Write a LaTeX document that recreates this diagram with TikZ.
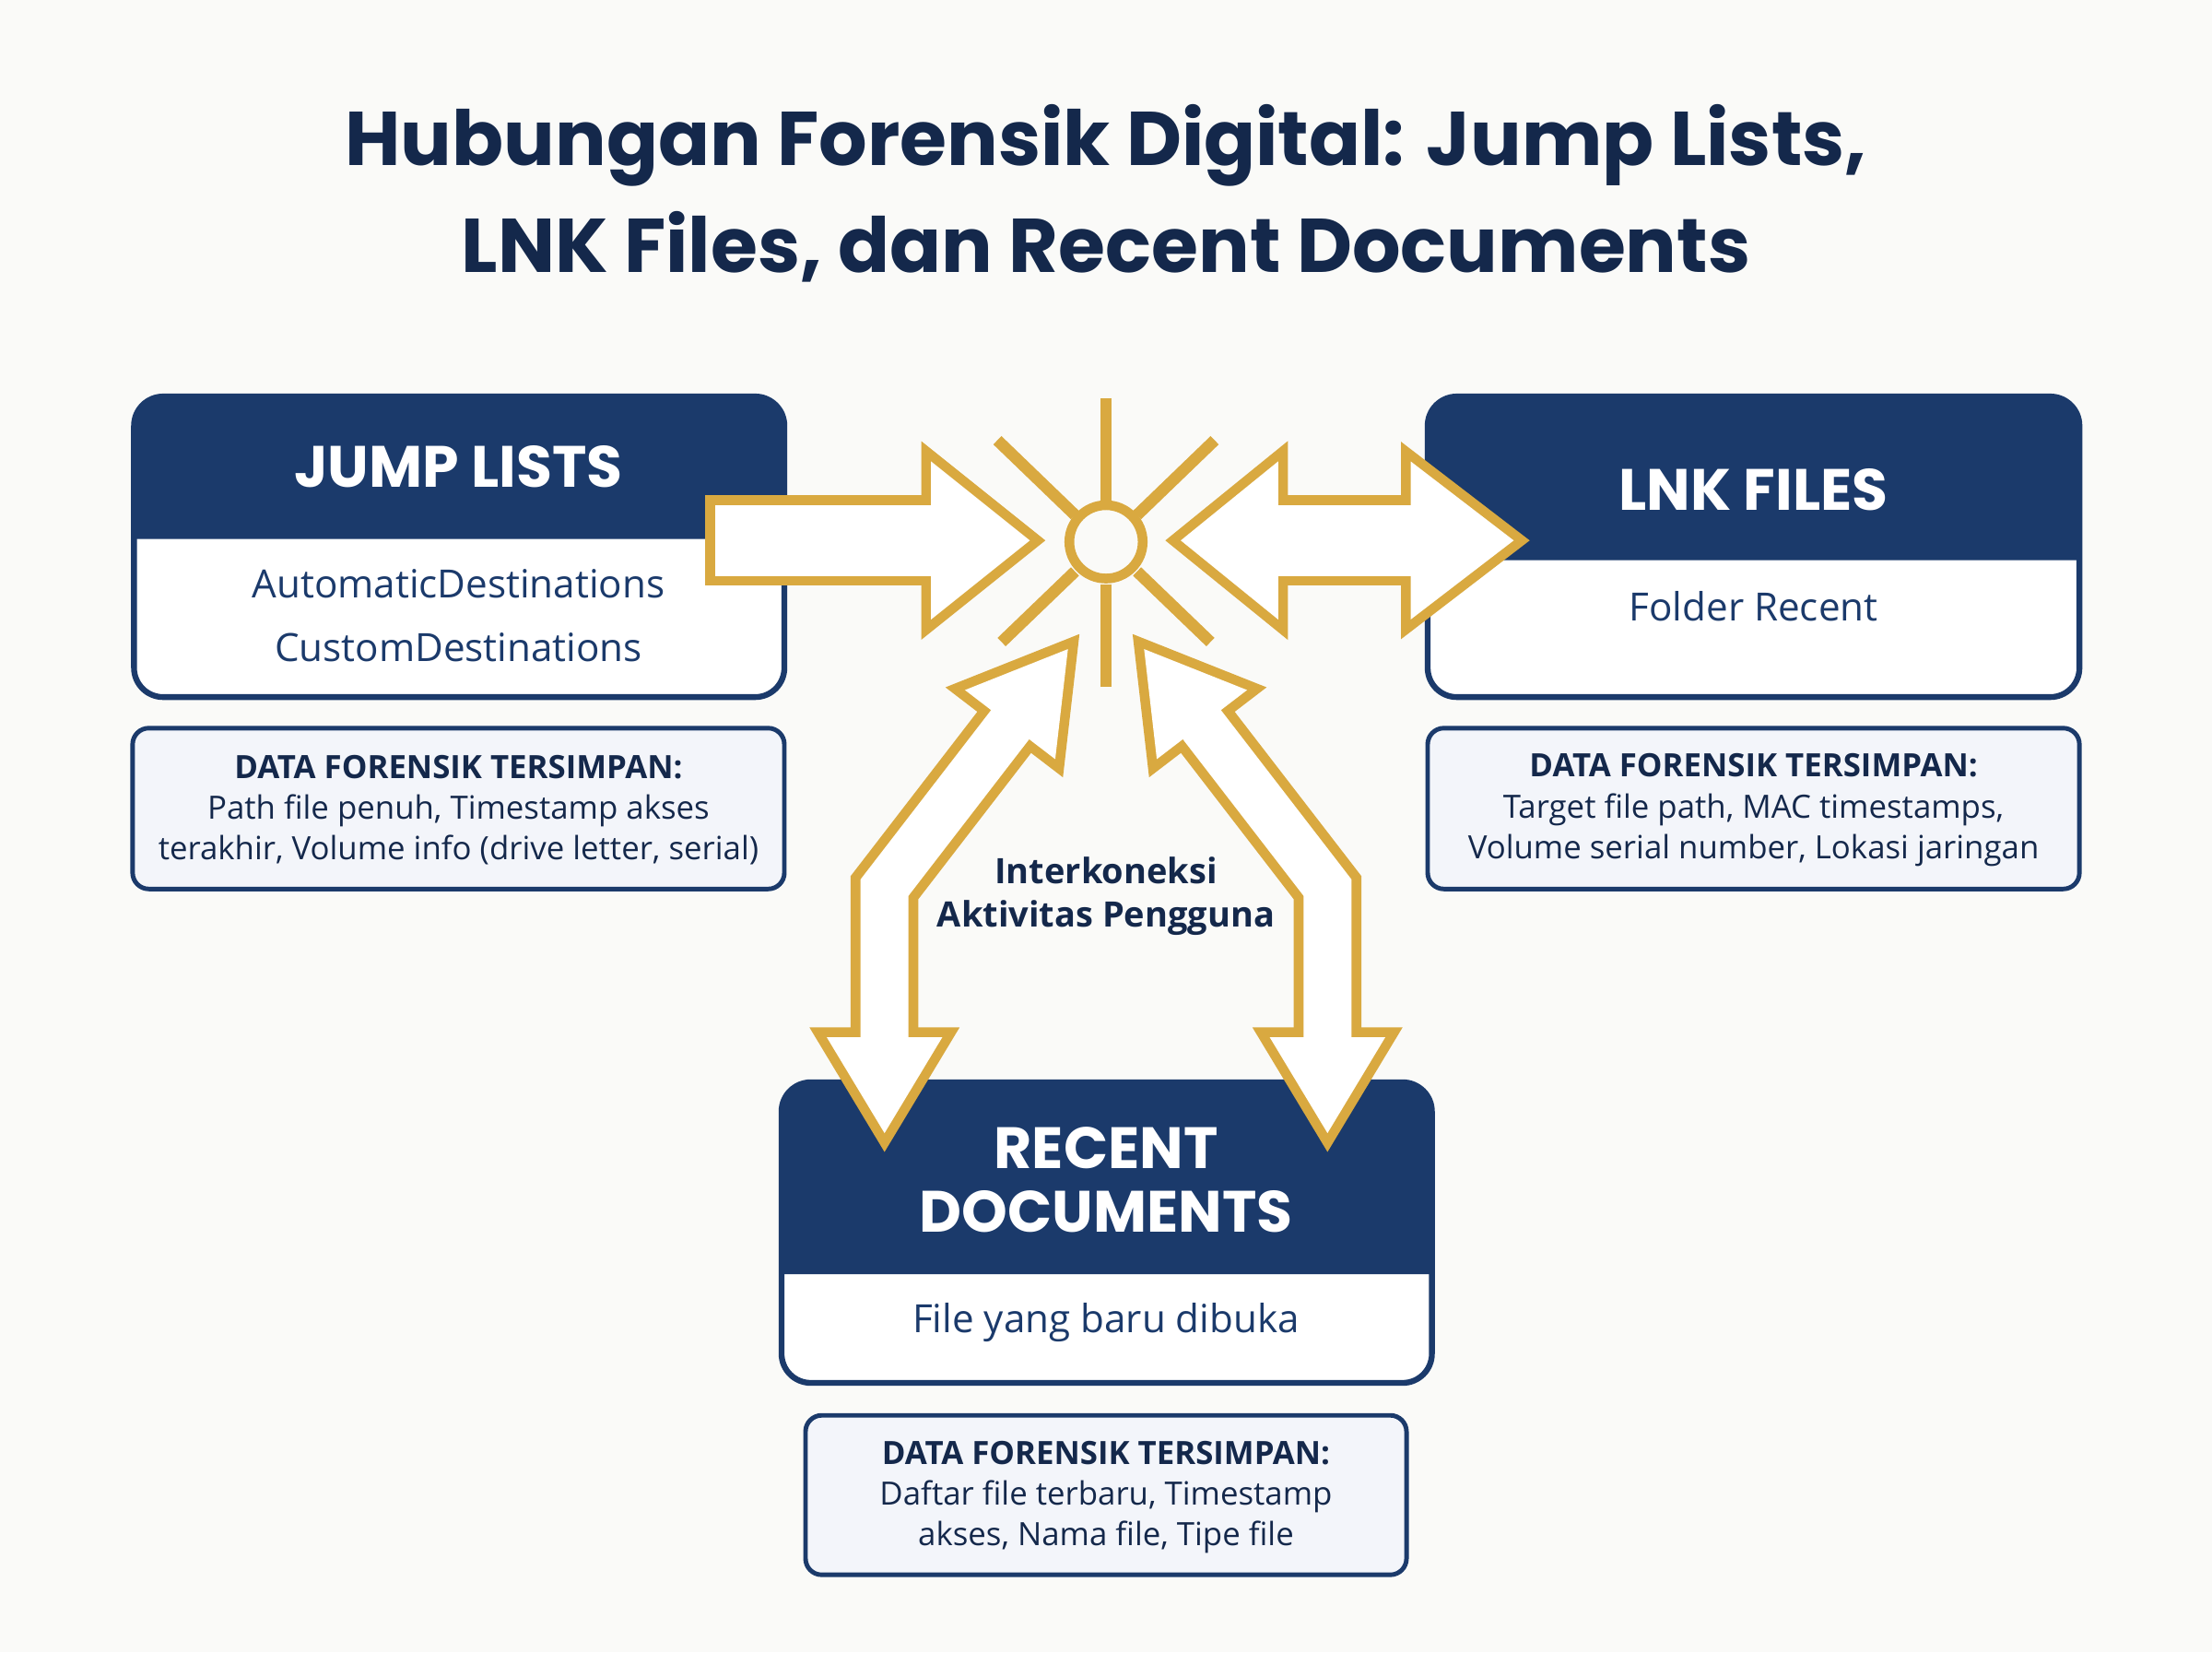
\documentclass[tikz,border=0pt]{standalone}
\usepackage{fontspec}
\setmainfont{Open Sans}
\newfontfamily\titlefont{Poppins}
\definecolor{navy}{HTML}{1B3A6B}
\definecolor{ink}{HTML}{14284B}
\definecolor{gold}{HTML}{D9A940}
\definecolor{paper}{HTML}{FAFAF8}
\definecolor{datafill}{HTML}{F3F5FA}
\tikzset{
  boxline/.style={draw=navy,line width=1.8pt,fill=white,rounded corners=9pt},
  databox/.style={draw=navy,line width=1.4pt,fill=datafill,rounded corners=5pt},
  headtxt/.style={text=white,font=\titlefont\bfseries\fontsize{18}{20}\selectfont,align=center},
  bodytxt/.style={text=navy,font=\fontsize{12}{14}\selectfont},
  datatxt/.style={text=ink,font=\fontsize{9.9}{12.6}\selectfont,align=center},
  goldshaft/.style={draw=gold,line join=miter},
  goldhead/.style={draw=gold,fill=gold,line width=6pt,line join=miter},
  whitehead/.style={fill=white},
  ray/.style={draw=gold,line width=3.6pt},
}
\begin{document}
\begin{tikzpicture}[x=0.015306cm,y=-0.015306cm]
\fill[paper] (0,0) rectangle (1568,1171);
\useasboundingbox (0,0) rectangle (1568,1171);
% title
\node[text=ink,font=\titlefont\bfseries\fontsize{23.5}{30}\selectfont,align=center] (title) at (784,137)
  {Hubungan Forensik Digital: Jump Lists,\\[3pt]LNK Files, dan Recent Documents};
% Jump lists box
\draw[boxline] (95,281) rectangle (556,494);
\fill[navy] (95,382) [rounded corners=9pt]-- (95,281) -- (556,281) [sharp corners]-- (556,382) -- cycle;
\node[headtxt] (jl) at (325,331) {JUMP LISTS};
\node[bodytxt] (jl1) at (325,414) {AutomaticDestinations};
\node[bodytxt] (jl2) at (325,459) {CustomDestinations};
% LNK box
\draw[boxline] (1012,281) rectangle (1474,494);
\fill[navy] (1012,397) [rounded corners=9pt]-- (1012,281) -- (1474,281) [sharp corners]-- (1474,397) -- cycle;
\node[headtxt] (lnk) at (1243,347) {LNK FILES};
\node[bodytxt] (lnk1) at (1243,430) {Folder Recent};
% Recent box
\draw[boxline] (554,767) rectangle (1015,980);
\fill[navy] (554,903) [rounded corners=9pt]-- (554,767) -- (1015,767) [sharp corners]-- (1015,903) -- cycle;
\node[headtxt,font=\titlefont\bfseries\fontsize{18}{19.5}\selectfont] (rd) at (784,836) {RECENT\\DOCUMENTS};
\node[bodytxt] (rd1) at (784,937) {File yang baru dibuka};
% data boxes
\draw[databox] (94,516) rectangle (556,630);
\node[datatxt] (d1) at (325,574) {\textbf{DATA FORENSIK TERSIMPAN:}\\Path file penuh, Timestamp akses\\terakhir, Volume info (drive letter, serial)};
\draw[databox] (1012,516) rectangle (1474,630);
\node[datatxt] (d2) at (1243,574) {\textbf{DATA FORENSIK TERSIMPAN:}\\Target file path, MAC timestamps,\\Volume serial number, Lokasi jaringan};
\draw[databox] (571,1003) rectangle (997,1116);
\node[datatxt] (d3) at (784,1061) {\textbf{DATA FORENSIK TERSIMPAN:}\\Daftar file terbaru, Timestamp\\akses, Nama file, Tipe file};
% rays and circle
\draw[ray] (784,282) -- (784,356);
\draw[ray] (784,414) -- (784,487);
\draw[ray] (707,312) -- (762,365);
\draw[ray] (861,312) -- (806,365);
\draw[ray] (710,455) -- (762,405);
\draw[ray] (858,455) -- (806,405);
\draw[gold,line width=3pt] (784,384) circle (26);
% centre label
\node[text=ink,font=\bfseries\fontsize{10.8}{13.5}\selectfont,align=center] (ik) at (784,635) {Interkoneksi\\Aktivitas Pengguna};
% ---- arrows: gold layer
\draw[goldshaft,line width=27.9pt] (500,383) -- (662,383);
\draw[goldhead] (660,327) -- (730,383) -- (660,439) -- cycle;
\draw[goldshaft,line width=27.9pt] (904,383) -- (1002,383);
\draw[goldhead] (906,327) -- (837,383) -- (906,439) -- cycle;
\draw[goldhead] (1000,327) -- (1073,383) -- (1000,439) -- cycle;
\draw[goldshaft,line width=20.9pt] (718,511) -- (627,629) -- (627,737);
\draw[goldhead] (684,489) -- (757,460) -- (748,538) -- cycle;
\draw[goldhead] (586,735) -- (668,735) -- (627,803) -- cycle;
\draw[goldshaft,line width=20.9pt] (850,511) -- (941,629) -- (941,737);
\draw[goldhead] (884,489) -- (811,460) -- (820,538) -- cycle;
\draw[goldhead] (982,735) -- (900,735) -- (941,803) -- cycle;
% ---- arrows: white layer
\draw[white,line width=21.8pt] (507,383) -- (662,383);
\fill[whitehead] (660,327) -- (730,383) -- (660,439) -- cycle;
\draw[white,line width=21.8pt] (904,383) -- (1002,383);
\fill[whitehead] (906,327) -- (837,383) -- (906,439) -- cycle;
\fill[whitehead] (1000,327) -- (1073,383) -- (1000,439) -- cycle;
\draw[white,line width=14.8pt,line join=miter] (718,511) -- (627,629) -- (627,737);
\fill[whitehead] (684,489) -- (757,460) -- (748,538) -- cycle;
\fill[whitehead] (586,735) -- (668,735) -- (627,803) -- cycle;
\draw[white,line width=14.8pt,line join=miter] (850,511) -- (941,629) -- (941,737);
\fill[whitehead] (884,489) -- (811,460) -- (820,538) -- cycle;
\fill[whitehead] (982,735) -- (900,735) -- (941,803) -- cycle;
\end{tikzpicture}
\end{document}
